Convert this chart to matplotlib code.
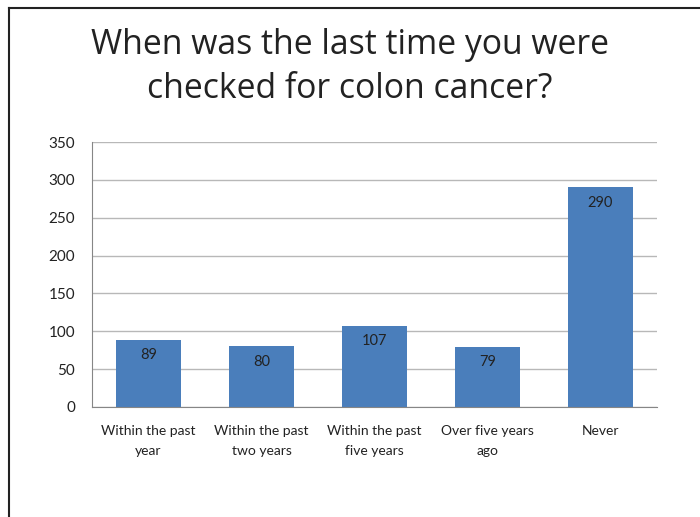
import matplotlib
matplotlib.use('Agg')
import matplotlib.pyplot as plt
from matplotlib.lines import Line2D

# --- Data ---
categories = ["Within the past\nyear", "Within the past\ntwo years",
              "Within the past\nfive years", "Over five years\nago", "Never"]
counts = [89, 80, 107, 79, 290]
yticks = [0, 50, 100, 150, 200, 250, 300, 350]

bar_color = "#4A7EBB"

fig = plt.figure(figsize=(7, 5.17), dpi=100)
ax = fig.add_axes([92 / 700, 1 - 407 / 517, (657 - 92) / 700, (407 - 142) / 517])

x = range(len(categories))
bars = ax.bar(x, counts, width=0.57, color=bar_color, zorder=2)

# value labels inside top of each bar
for b, v in zip(bars, counts):
    ax.annotate(str(v), (b.get_x() + b.get_width() / 2, v), xytext=(0, -11),
                textcoords="offset points", ha="center", va="center",
                fontsize=10.5, color="#222222", family="Lato")

ax.set_xlim(-0.5, len(categories) - 0.5)
ax.set_ylim(0, 350)
ax.set_yticks(yticks)
ax.set_xticks(list(x))
ax.set_xticklabels(categories, fontsize=10, family="Lato", color="#222222",
                   linespacing=1.8)
ax.tick_params(axis="y", length=0, pad=12, labelsize=11, labelcolor="#222222")
ax.tick_params(axis="x", length=0, pad=13)
for lab in ax.get_yticklabels():
    lab.set_family("Lato")

ax.grid(axis="y", color="#b8b8b8", linewidth=1, zorder=0)
for side in ["top", "right"]:
    ax.spines[side].set_visible(False)
for side in ["left", "bottom"]:
    ax.spines[side].set_color("#868686")
    ax.spines[side].set_zorder(3)

# title
fig.text(0.5, 1 - 67 / 517, "When was the last time you were\nchecked for colon cancer?",
         ha="center", va="center", fontsize=24.3, family="Open Sans",
         color="#222222", linespacing=1.35)

# slide frame (left and top edges)
fig.add_artist(Line2D([8.5 / 700, 8.5 / 700], [0, 1 - 8 / 517], transform=fig.transFigure,
                      color="#222222", linewidth=1.5))
fig.add_artist(Line2D([8.5 / 700, 1], [1 - 8 / 517, 1 - 8 / 517], transform=fig.transFigure,
                      color="#222222", linewidth=1.5))

fig.savefig("out.png", dpi=100)
